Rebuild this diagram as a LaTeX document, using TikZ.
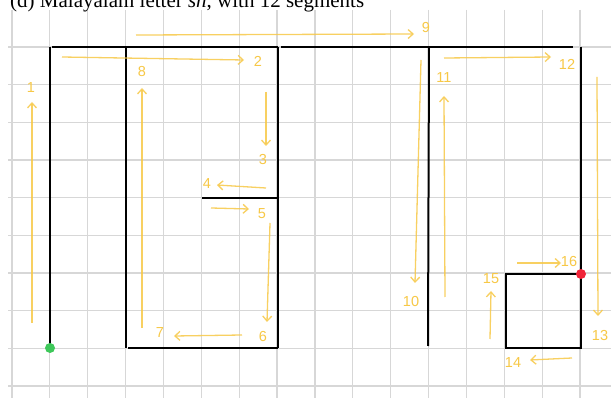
\documentclass[tikz,border=0pt]{standalone}
\usepackage{fontspec}
\setmainfont{Liberation Serif}
\newfontfamily\handfont{Liberation Sans}
\usetikzlibrary{arrows.meta}
\definecolor{hand}{RGB}{247,200,70}
\definecolor{gridc}{RGB}{215,215,215}
\definecolor{startc}{RGB}{62,200,90}
\definecolor{endc}{RGB}{240,36,56}
\tikzset{
  gridline/.style={draw=gridc,line width=1.2pt},
  stroke/.style={draw=black,line width=2pt},
  guide/.style={draw=hand,line width=1.3pt,opacity=0.85,-{Straight Barb[length=5pt,width=9pt,line width=1.3pt]}},
  num/.style={text=hand,font=\handfont\fontsize{14.5}{14.5}\selectfont,inner sep=0pt},
  dot/.style={circle,inner sep=0pt,minimum size=10pt}
}
\begin{document}
\begin{tikzpicture}[x=1pt,y=-1pt]
\useasboundingbox (0,0) rectangle (611,398);
\fill[white] (0,0) rectangle (611,398);
% grid
\foreach \k in {0,...,15} {\draw[gridline] ({12+37.87*\k},10) -- ({12+37.87*\k},398);}
\foreach \j in {0,...,9} {\draw[gridline] (8,{47+37.67*\j}) -- (611,{47+37.67*\j});}
% title
\node[anchor=base west,inner sep=0pt,font=\fontsize{21}{21}\selectfont] (title) at (10,8) {(d) Malayalam letter \textit{sh}, with 12 segments};
% key points
\coordinate (p1) at (50,348);
\coordinate (p1t) at (50,47);
\coordinate (t1) at (52,47);
\coordinate (t2) at (278,47);
\coordinate (t3) at (281,47);
\coordinate (t4) at (573,47);
\coordinate (a1) at (126,47);
\coordinate (a2) at (126,348);
\coordinate (b1) at (128,348);
\coordinate (b2) at (278,348);
\coordinate (c1) at (278,47);
\coordinate (c2) at (278,348);
\coordinate (d1) at (202,198);
\coordinate (d2) at (278,198);
\coordinate (e1) at (429,47);
\coordinate (e2) at (428,346);
\coordinate (f1) at (581,47);
\coordinate (f2) at (581,274);
\coordinate (s1) at (506,274);
\coordinate (s2) at (581,348);
% black strokes
\draw[stroke] (p1) -- (p1t);
\draw[stroke] (t1) -- (t2);
\draw[stroke] (t3) -- (t4);
\draw[stroke] (a1) -- (a2);
\draw[stroke] (b1) -- (b2);
\draw[stroke] (c1) -- (c2);
\draw[stroke] (d1) -- (d2);
\draw[stroke] (e1) -- (e2);
\draw[stroke] (f1) -- (f2);
\draw[stroke] (s1) rectangle (s2);
\node[dot,fill=startc] (start) at (p1) {};
\node[dot,fill=endc] (end) at (f2) {};
% guide arrows
\coordinate (g1a) at (32,323); \coordinate (g1b) at (32,102);
\coordinate (g2a) at (62,57); \coordinate (g2b) at (244,60);
\coordinate (g8a) at (142,328); \coordinate (g8b) at (142,88);
\coordinate (g9a) at (136,35); \coordinate (g9b) at (414,34);
\coordinate (g3a) at (266,92); \coordinate (g3b) at (266,146);
\coordinate (g4a) at (266,188); \coordinate (g4b) at (217,185);
\coordinate (g5a) at (211,208); \coordinate (g5b) at (249,209);
\coordinate (g6a) at (270,223); \coordinate (g6b) at (267,322);
\coordinate (g7a) at (242,335); \coordinate (g7b) at (174,336);
\coordinate (g10a) at (421,60); \coordinate (g10b) at (415,283);
\coordinate (g11a) at (445,297); \coordinate (g11b) at (444,96);
\coordinate (g12a) at (444,58); \coordinate (g12b) at (551,57);
\coordinate (g13a) at (597,77); \coordinate (g13b) at (598,316);
\coordinate (g14a) at (572,358); \coordinate (g14b) at (530,360);
\coordinate (g15a) at (490,339); \coordinate (g15b) at (491,291);
\coordinate (g16a) at (517,263); \coordinate (g16b) at (561,263);
\foreach \g in {1,2,3,4,5,6,7,8,9,10,11,12,13,14,15,16} {\draw[guide] (g\g a) -- (g\g b);}
% labels
\node[num] (n1) at (31,88) {1};
\node[num] (n2) at (258,61) {2};
\node[num] (n3) at (263,160) {3};
\node[num] (n4) at (207,184) {4};
\node[num] (n5) at (262,214) {5};
\node[num] (n6) at (263,337) {6};
\node[num] (n7) at (160,333) {7};
\node[num] (n8) at (142,72) {8};
\node[num] (n9) at (426,28) {9};
\node[num] (n10) at (411,302) {10};
\node[num] (n11) at (444,78) {11};
\node[num] (n12) at (567,64) {12};
\node[num] (n13) at (600,336) {13};
\node[num] (n14) at (513,363) {14};
\node[num] (n15) at (491,279) {15};
\node[num] (n16) at (569,262) {16};
\end{tikzpicture}
\end{document}
